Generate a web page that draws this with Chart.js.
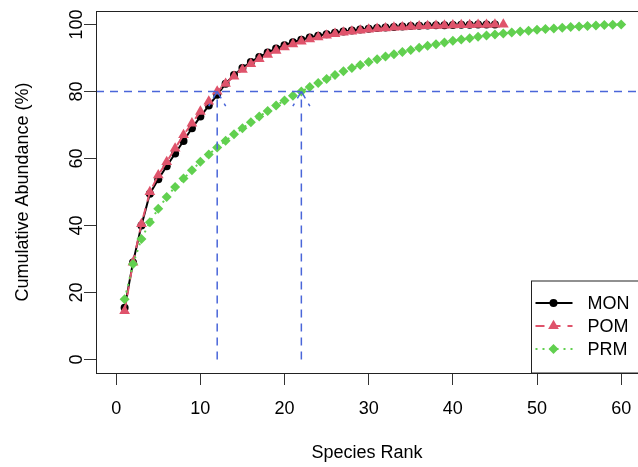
<!DOCTYPE html>
<html>
<head>
<meta charset="utf-8">
<script src="https://cdn.jsdelivr.net/npm/chart.js@4.4.1/dist/chart.umd.min.js"></script>
<style>
  html, body { margin: 0; padding: 0; background: #fff; }
</style>
</head>
<body>
<canvas id="c" width="638" height="467"></canvas>
<script>
// cumulative abundance (%) by species rank
const monValues = [15.5, 29, 40, 49.5, 53.8, 57.7, 61.5, 65.2, 69, 72.5,
  75.8, 79, 82.3, 84.9, 87, 88.8, 90.3, 91.6, 92.8, 93.8,
  94.7, 95.4, 96.1, 96.6, 97.1, 97.5, 97.9, 98.2, 98.5, 98.7,
  98.9, 99.1, 99.25, 99.38, 99.5, 99.58, 99.66, 99.72, 99.78, 99.83,
  99.88, 99.92, 99.95, 99.98, 100];
const pomValues = [14.5, 29, 40.5, 50, 55, 59, 63, 67, 70.5, 74,
  77, 80, 82.3, 84.5, 86.5, 88.2, 89.7, 91, 92.2, 93.2,
  94.1, 94.9, 95.6, 96.2, 96.7, 97.2, 97.6, 97.9, 98.2, 98.5,
  98.7, 98.9, 99.1, 99.2, 99.35, 99.45, 99.55, 99.62, 99.7, 99.76,
  99.82, 99.87, 99.92, 99.95, 99.98, 100];
const prmValues = [18, 28.5, 36, 41, 45, 48.5, 51.5, 54, 56.5, 59,
  61.2, 63.3, 65.3, 67.2, 69, 70.8, 72.5, 74.2, 75.8, 77.3,
  78.7, 80, 81.3, 82.5, 83.7, 84.9, 86, 87, 87.9, 88.8,
  89.6, 90.4, 91.1, 91.8, 92.4, 93, 93.6, 94.1, 94.6, 95.1,
  95.5, 95.9, 96.3, 96.7, 97, 97.3, 97.6, 97.9, 98.1, 98.4,
  98.6, 98.8, 99, 99.2, 99.4, 99.5, 99.7, 99.8, 99.9, 100];
const seriesNames = ['MON', 'POM', 'PRM'];
const xTicks = [0, 10, 20, 30, 40, 50, 60];
const yTicks = [0, 20, 40, 60, 80, 100];
// 80% threshold and the ranks where it is reached
const cutLevel = 80;
const cutRanks = [12, 22];

const FONT = 'Liberation Sans, Arial, Helvetica, sans-serif';
const BLUE = '#4a66d9';
const colors = ['#000000', '#DF536B', '#61D04F'];
const styles = ['circle', 'triangle', 'rectRot'];
const radii = [4, 6.2, 5];
const dashes = [[], [9, 7], [2, 5]];

const toPoints = (vals) => vals.map((v, i) => ({ x: i + 1, y: v }));

const dashedLine = (ctx, x1, y1, x2, y2) => {
  ctx.beginPath();
  ctx.moveTo(x1, y1);
  ctx.lineTo(x2, y2);
  ctx.stroke();
};

const extras = {
  id: 'extras',
  afterDatasetsDraw(chart) {
    const { ctx, chartArea: a, scales: { x, y } } = chart;
    ctx.save();
    ctx.strokeStyle = BLUE;
    ctx.lineWidth = 1.5;
    ctx.setLineDash([8, 6]);
    const yc = y.getPixelForValue(cutLevel);
    dashedLine(ctx, a.left, yc, chart.width, yc);
    const y0 = y.getPixelForValue(0);
    cutRanks.forEach((r) => {
      const px = x.getPixelForValue(r);
      dashedLine(ctx, px, y0, px, yc);
      // arrow head, 30 degrees each side
      const len = 17;
      dashedLine(ctx, px, yc, px - len * Math.sin(Math.PI / 6), yc + len * Math.cos(Math.PI / 6));
      dashedLine(ctx, px, yc, px + len * Math.sin(Math.PI / 6), yc + len * Math.cos(Math.PI / 6));
    });
    ctx.restore();
  },
  afterDraw(chart) {
    const { ctx, chartArea: a, scales: { y } } = chart;
    const right = chart.width + 2;
    ctx.save();
    // plot box (right side falls just outside the canvas)
    ctx.strokeStyle = '#222';
    ctx.lineWidth = 1;
    ctx.strokeRect(a.left + 0.5, a.top + 0.5, right - a.left, a.bottom - a.top);

    // y tick labels, rotated like R
    ctx.fillStyle = '#000';
    ctx.font = `18px ${FONT}`;
    ctx.textAlign = 'center';
    ctx.textBaseline = 'middle';
    yTicks.forEach((v) => {
      ctx.save();
      ctx.translate(a.left - 19, y.getPixelForValue(v));
      ctx.rotate(-Math.PI / 2);
      ctx.fillText(String(v), 0, 0);
      ctx.restore();
    });

    // legend, bottom right
    const lx = 531.5, ly = 281;
    ctx.fillStyle = '#fff';
    ctx.fillRect(lx, ly, right - lx, a.bottom - ly);
    ctx.strokeStyle = '#222';
    ctx.strokeRect(lx, ly, right - lx, a.bottom - ly);
    seriesNames.forEach((name, i) => {
      const ry = ly + 22 + i * 23;
      ctx.strokeStyle = colors[i];
      ctx.lineWidth = 2;
      ctx.setLineDash(dashes[i]);
      dashedLine(ctx, lx + 4, ry, lx + 41, ry);
      ctx.setLineDash([]);
      ctx.fillStyle = colors[i];
      Chart.helpers.drawPoint(ctx, { pointStyle: styles[i], radius: radii[i], borderWidth: 0, rotation: 0 }, lx + 22, ry);
      ctx.fillStyle = '#000';
      ctx.textAlign = 'left';
      ctx.fillText(name, lx + 56, ry + 1);
    });
    ctx.restore();
  },
};

const datasets = [monValues, pomValues, prmValues].map((vals, i) => ({
  label: seriesNames[i],
  data: toPoints(vals),
  borderColor: colors[i],
  backgroundColor: colors[i],
  borderWidth: 2,
  borderDash: dashes[i],
  pointStyle: styles[i],
  pointRadius: radii[i],
  pointBorderWidth: 0,
  pointBackgroundColor: colors[i],
  tension: 0,
  clip: false,
  order: 2 - i,
}));

new Chart(document.getElementById('c'), {
  type: 'line',
  data: { datasets },
  options: {
    responsive: false,
    animation: false,
    events: [],
    layout: { autoPadding: false, padding: { top: 11, right: 0, left: 0, bottom: 0 } },
    plugins: { legend: { display: false }, tooltip: { enabled: false } },
    scales: {
      x: {
        type: 'linear',
        min: -2.4,
        max: 62.0,
        afterBuildTicks: (s) => { s.ticks = xTicks.map((v) => ({ value: v })); },
        afterFit: (s) => { s.height = 94; s.paddingRight = 0; s.paddingLeft = 0; },
        border: { display: false },
        grid: { drawOnChartArea: false, drawTicks: true, tickLength: 12, tickColor: '#333', tickWidth: 1 },
        ticks: { color: '#000', font: { family: FONT, size: 18 }, padding: 13, maxRotation: 0 },
        title: { display: true, text: 'Species Rank', color: '#000', font: { family: FONT, size: 18 }, padding: { top: 0, bottom: 3 } },
      },
      y: {
        type: 'linear',
        min: -4,
        max: 104,
        afterBuildTicks: (s) => { s.ticks = yTicks.map((v) => ({ value: v })); },
        afterFit: (s) => { s.width = 96; s.paddingTop = 0; s.paddingBottom = 0; },
        border: { display: false },
        grid: { drawOnChartArea: false, drawTicks: true, tickLength: 12, tickColor: '#333', tickWidth: 1 },
        ticks: { display: false },
        title: { display: true, text: 'Cumulative Abundance (%)', color: '#000', font: { family: FONT, size: 18 }, padding: { top: 12, bottom: 0 } },
      },
    },
  },
  plugins: [extras],
});
</script>
</body>
</html>
